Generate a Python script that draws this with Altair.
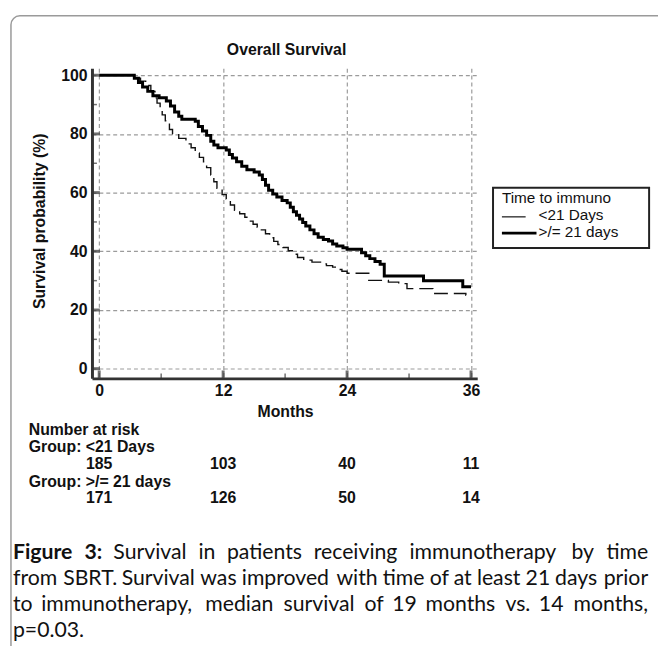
import altair as alt
import pandas as pd

# ---------------- data ----------------
months_ge21 = [0, 3.4, 3.8, 4.2, 4.7, 5.2, 5.8, 6.5, 6.9, 7.3,
               7.7, 8.0, 9.3, 9.6, 10.0, 10.4, 10.8, 11.1, 11.5, 12.3,
               12.6, 12.9, 13.3, 13.8, 14.3, 15.0, 15.5, 15.8, 16.1, 16.4,
               16.8, 17.2, 17.7, 18.2, 18.5, 18.8, 19.1, 19.4, 19.7, 20.0,
               20.4, 20.8, 21.2, 21.7, 22.2, 22.6, 23.0, 23.6, 24.0, 25.4,
               25.8, 26.2, 26.7, 27.2, 27.6, 31.4, 35.2, 36.0]
surv_ge21 = [100, 99, 97.5, 96, 94.5, 93, 92.3, 91.2, 89.5, 87.5,
             86, 85, 84.3, 82.5, 81, 79.5, 77.5, 76.2, 75.3, 74.5,
             73, 71.8, 70.5, 69, 67.8, 67, 66, 64.5, 62.5, 60.8,
             59.5, 58.5, 57.3, 56.5, 55, 53.5, 52.3, 51, 49.8, 48.6,
             47.3, 46, 44.8, 44, 43.5, 42.5, 41.8, 41.2, 40.7, 39.5,
             38.5, 37.5, 36.5, 35.6, 31.6, 30.0, 27.9, 27.9]

months_lt21 = [0, 3.5, 4.0, 4.5, 5.0, 5.4, 5.6, 5.9, 6.1, 6.4,
               6.8, 7.1, 7.7, 8.4, 8.9, 9.3, 9.7, 10.1, 10.4, 10.8,
               11.1, 11.4, 11.9, 12.3, 12.7, 13.1, 13.6, 14.1, 14.5, 14.9,
               15.3, 15.7, 16.1, 16.5, 16.9, 17.3, 17.8, 18.3, 18.7, 19.2,
               19.8, 20.6, 21.5, 22.0, 22.6, 23.1, 23.5, 24.0, 26.1, 28.0,
               29.0, 29.8, 32.3, 35.5, 36.0]
surv_lt21 = [100, 99, 98, 96.5, 94.5, 92.3, 90.5, 88.4, 86.5, 84.5,
             81.5, 80, 78.5, 76.6, 75.3, 73.5, 72, 70.5, 68.5, 66,
             63.7, 61.5, 59.3, 57.8, 55.8, 54, 52.8, 51.6, 50.3, 49.2,
             48.2, 47.3, 46, 44.6, 43.4, 42.3, 41.3, 40.2, 39, 37.9,
             37, 36.3, 35.7, 35.1, 34.6, 33.8, 33.2, 32.5, 30.1, 29.5,
             29.0, 27.3, 25.6, 25.0, 25.0]

group_names = ["<21 Days", ">/= 21 days"]
risk_months = [0, 12, 24, 36]
risk_lt21 = [185, 103, 40, 11]
risk_ge21 = [171, 126, 50, 14]

x_major = [0, 12, 24, 36]
x_minor = [6, 18, 30]
y_major = [0, 20, 40, 60, 80, 100]
y_minor = [10, 30, 50, 70, 90]

chart_title = "Overall Survival"
x_title = "Months"
y_title = "Survival probability (%)"
legend_title = "Time to immuno"
risk_title = "Number at risk"
risk_group_labels = ["Group: <21 Days", "Group: >/= 21 days"]
caption_bold = "Figure 3:"
caption_lines = [
    "Survival in patients receiving immunotherapy by time",
    "from SBRT. Survival was improved with time of at least 21 days prior",
    "to immunotherapy, median survival of 19 months vs. 14 months,",
    "p=0.03.",
]

# ---------------- layout / style ----------------
W, H = 390, 314
FONT = "Liberation Sans"
CAP_FONT = "Lato"
CAP_SIZE = 21.5
INK = "#111111"

xs = alt.Scale(domain=[-0.7, 36.6], nice=False, zero=False)
ys = alt.Scale(domain=[-3.3, 102.4], nice=False, zero=False)

one = alt.Data(values=[{}])


def text(s, x, y, size=16, weight="bold", align="left", angle=0,
         font=FONT, color=INK, baseline="alphabetic"):
    return alt.Chart(one).mark_text(
        text=s, align=align, baseline=baseline, fontSize=size,
        fontWeight=weight, font=font, angle=angle, color=color
    ).encode(x=alt.value(x), y=alt.value(y))


# approximate glyph advances (em) of the caption font, used to justify lines
ADV = {"a": .51, "b": .57, "c": .47, "d": .57, "e": .53, "f": .33, "g": .50,
       "h": .57, "i": .24, "j": .24, "k": .51, "l": .24, "m": .86, "n": .57,
       "o": .57, "p": .56, "q": .57, "r": .38, "s": .43, "t": .36, "u": .57,
       "v": .52, "w": .79, "x": .50, "y": .52, "z": .46,
       ".": .22, ",": .22, ":": .22, "=": .58,
       "S": .50, "B": .63, "R": .62, "T": .56, "F": .53}
for d in "0123456789":
    ADV[d] = .58
ADV_B = dict(ADV)
ADV_B.update({"F": .55, "i": .26, "g": .52, "u": .58, "r": .39, "e": .54, ":": .25})


def est_width(word, bold=False):
    table = ADV_B if bold else ADV
    return sum(table.get(c, .55) for c in word) * CAP_SIZE


def justified(words, bolds, x0, x1, y):
    widths = [est_width(w, b) for w, b in zip(words, bolds)]
    gap = (x1 - x0 - sum(widths)) / (len(words) - 1)
    out, x = [], x0
    for i, (w, b) in enumerate(zip(words, bolds)):
        last = i == len(words) - 1
        out.append(text(w, x1 if last else x, y, size=CAP_SIZE,
                        weight="bold" if b else "normal", font=CAP_FONT,
                        align="right" if last else "left"))
        x += widths[i] + gap
    return out


CAP_X0, CAP_X1 = -80, 563
cap_y = [496.5, 523, 549.5, 576]
cap_layers = []
w1 = caption_bold.split(" ") + caption_lines[0].split(" ")
cap_layers += justified(w1, [True] * len(caption_bold.split(" ")) +
                        [False] * len(caption_lines[0].split(" ")),
                        CAP_X0, CAP_X1, cap_y[0])
for k in (1, 2):
    ws = caption_lines[k].split(" ")
    cap_layers += justified(ws, [False] * len(ws), CAP_X0, CAP_X1, cap_y[k])
cap_layers.append(text(caption_lines[3], CAP_X0, cap_y[3], size=CAP_SIZE,
                       weight="normal", font=CAP_FONT))

x_axis = alt.Axis(values=x_major, grid=True, gridDash=[4, 3], gridColor="#9b9b9b",
                  gridWidth=1.2, domain=True, domainColor="#333333", domainWidth=3,
                  ticks=False, tickSize=0, labelFont=FONT, labelFontWeight="bold",
                  labelFontSize=16, labelColor=INK, labelPadding=4, title=None,
                  labelFlush=False, labelOverlap=False)
y_axis = alt.Axis(values=y_major, grid=True, gridDash=[4, 3], gridColor="#9b9b9b",
                  gridWidth=1.2, domain=True, domainColor="#333333", domainWidth=3,
                  ticks=False, tickSize=0, labelFont=FONT, labelFontWeight="bold",
                  labelFontSize=16, labelColor=INK, labelPadding=5, title=None,
                  labelFlush=False, labelOverlap=False)

X = lambda f: alt.X(f, scale=xs, axis=x_axis)
Y = lambda f: alt.Y(f, scale=ys, axis=y_axis)

df_ge = pd.DataFrame({"months": months_ge21, "surv": surv_ge21})
df_lt = pd.DataFrame({"months": months_lt21, "surv": surv_lt21})
risk_df = pd.DataFrame({"months": risk_months, "lt": risk_lt21, "ge": risk_ge21})

frame = alt.Chart(one).mark_rect(fillOpacity=0, stroke="#9a9a9a", strokeWidth=1.5,
                                 cornerRadius=9).encode(
    x=alt.value(-82), x2=alt.value(760), y=alt.value(-53), y2=alt.value(800))

thin = alt.Chart(df_lt).mark_line(interpolate="step-after", color=INK, strokeWidth=1.4,
                                  strokeDash=[14, 6]).encode(
    x=X("months:Q"), y=Y("surv:Q"))

thick = alt.Chart(df_ge).mark_line(interpolate="step-after", color="#000000",
                                   strokeWidth=3).encode(
    x=X("months:Q"), y=Y("surv:Q"))

xt_major = alt.Chart(pd.DataFrame({"months": x_major})).mark_tick(
    size=8, thickness=3, color="#333333").encode(x=X("months:Q"), y=alt.value(H - 4))
xt_minor = alt.Chart(pd.DataFrame({"months": x_minor})).mark_tick(
    size=5, thickness=1.5, color="#333333").encode(x=X("months:Q"), y=alt.value(H - 2.5))
yt_major = alt.Chart(pd.DataFrame({"surv": y_major})).mark_tick(
    size=8, thickness=3, color="#333333").encode(y=Y("surv:Q"), x=alt.value(4))
yt_minor = alt.Chart(pd.DataFrame({"surv": y_minor})).mark_tick(
    size=5, thickness=1.5, color="#333333").encode(y=Y("surv:Q"), x=alt.value(2.5))

risk1 = alt.Chart(risk_df).mark_text(font=FONT, fontWeight="bold", fontSize=16,
                                     align="center", baseline="alphabetic",
                                     color=INK).encode(
    x=X("months:Q"), y=alt.value(405.5), text="lt:Q")
risk2 = alt.Chart(risk_df).mark_text(font=FONT, fontWeight="bold", fontSize=16,
                                     align="center", baseline="alphabetic",
                                     color=INK).encode(
    x=X("months:Q"), y=alt.value(440.5), text="ge:Q")

legend_box = alt.Chart(one).mark_rect(fillOpacity=0, stroke="#222222",
                                      strokeWidth=2).encode(
    x=alt.value(406), x2=alt.value(564), y=alt.value(121), y2=alt.value(182))
leg_thin = alt.Chart(one).mark_rule(color=INK, strokeWidth=1.2).encode(
    x=alt.value(415), x2=alt.value(439), y=alt.value(150.5))
leg_thick = alt.Chart(one).mark_rule(color="#000000", strokeWidth=2.6).encode(
    x=alt.value(415), x2=alt.value(450), y=alt.value(167))

layers = [
    frame, thin, thick, xt_major, xt_minor, yt_major, yt_minor, risk1, risk2,
    legend_box, leg_thin, leg_thick,
    text(chart_title, 197, -13, align="center"),
    text(y_title, -53, 155, align="center", angle=270, baseline="middle"),
    text(x_title, 196, 353, align="center"),
    text(risk_title, -64, 371),
    text(risk_group_labels[0], -64, 388.5),
    text(risk_group_labels[1], -64, 423.5),
    text(legend_title, 415, 136, size=15.5, weight="normal"),
    text(group_names[0], 452, 153.5, size=15.5, weight="normal"),
    text(group_names[1], 452, 171, size=15.5, weight="normal"),
] + cap_layers

chart = alt.layer(*layers).properties(
    width=W, height=H,
    padding={"left": 85, "top": 57, "right": 183, "bottom": 267},
    autosize=alt.AutoSizeParams(type="none"),
).configure_view(strokeWidth=0)

chart.save("out.html", embed_options={"renderer": "svg", "actions": False})
